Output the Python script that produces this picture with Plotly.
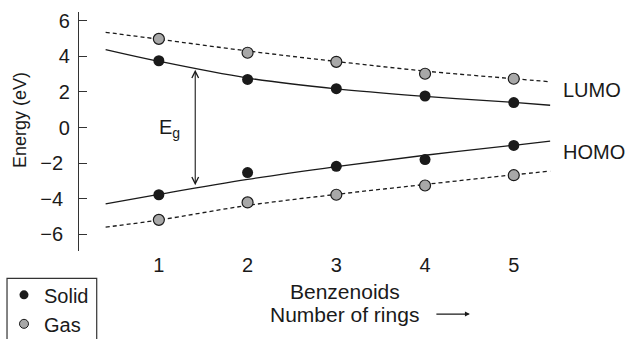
import plotly.graph_objects as go

# Number of rings (benzenoids)
rings = [1, 2, 3, 4, 5]

# Measured energies (eV)
lumo_solid = [3.75, 2.70, 2.18, 1.77, 1.40]
lumo_gas = [4.98, 4.20, 3.69, 3.02, 2.74]
homo_solid = [-3.78, -2.53, -2.18, -1.80, -1.01]
homo_gas = [-5.19, -4.21, -3.78, -3.26, -2.68]

# Fitted trend curves at a few x positions
fit_x = [0.4, 1, 2, 3, 4, 5, 5.41]
fit_lumo_solid = [4.38, 3.72, 2.78, 2.17, 1.75, 1.41, 1.25]
fit_lumo_gas = [5.35, 4.96, 4.30, 3.71, 3.17, 2.74, 2.57]
fit_homo_solid = [-4.29, -3.76, -2.92, -2.20, -1.56, -1.00, -0.77]
fit_homo_gas = [-5.60, -5.20, -4.38, -3.76, -3.20, -2.66, -2.45]

y_ticks = [-6, -4, -2, 0, 2, 4, 6]
y_tick_labels = ["\u22126\u2004", "\u22124\u2004", "\u22122\u2004", "0", "2", "4", "6"]
x_ticks = [1, 2, 3, 4, 5]

FONT = "Liberation Sans, Arial, Helvetica, sans-serif"
INK = "#1a1a1a"
GRAY = "#a8a8a8"

fig = go.Figure()

for ys, dash in [(fit_lumo_gas, "4px,3px"), (fit_homo_gas, "4px,3px"),
                 (fit_lumo_solid, "solid"), (fit_homo_solid, "solid")]:
    fig.add_trace(go.Scatter(x=fit_x, y=ys, mode="lines", line_shape="spline",
                             line=dict(color=INK, width=1.3, dash=dash),
                             showlegend=False, hoverinfo="skip"))

for ys in [lumo_gas, homo_gas]:
    fig.add_trace(go.Scatter(x=rings, y=ys, mode="markers", showlegend=False,
                             marker=dict(size=11, color=GRAY, line=dict(color=INK, width=1.2))))
for ys in [lumo_solid, homo_solid]:
    fig.add_trace(go.Scatter(x=rings, y=ys, mode="markers", showlegend=False,
                             marker=dict(size=11, color=INK, line=dict(width=0))))

# legend entries
fig.add_trace(go.Scatter(x=[None], y=[None], mode="markers", name="Solid",
                         marker=dict(size=9, color=INK, line=dict(width=0))))
fig.add_trace(go.Scatter(x=[None], y=[None], mode="markers", name="Gas",
                         marker=dict(size=9, color=GRAY, line=dict(color=INK, width=1))))

# Eg double arrow
fig.add_annotation(x=1.41, y=3.24, ax=1.41, ay=-3.33, xref="x", yref="y",
                   axref="x", ayref="y", text="", showarrow=True,
                   arrowhead=5, startarrowhead=5, arrowside="end+start",
                   arrowsize=1.2, startarrowsize=1.2, arrowwidth=1.1, arrowcolor=INK)
fig.add_annotation(x=1.125, y=-0.05, xref="x", yref="y", text="E<sub>g</sub>",
                   showarrow=False, font=dict(size=20, color=INK, family=FONT))

fig.add_annotation(x=5.537, y=2.08, xref="x", yref="y", text="LUMO", xanchor="left",
                   showarrow=False, font=dict(size=20, color=INK, family=FONT))
fig.add_annotation(x=5.537, y=-1.39, xref="x", yref="y", text="HOMO", xanchor="left",
                   showarrow=False, font=dict(size=20, color=INK, family=FONT))

# axis titles
fig.add_annotation(x=-0.121, y=0.5475, xref="paper", yref="paper", text="Energy (eV)",
                   textangle=-90, showarrow=False, xanchor="center", yanchor="middle",
                   font=dict(size=18, color=INK, family=FONT))
fig.add_annotation(x=3.096, y=-0.2275, xref="x", yref="paper", text="Benzenoids",
                   showarrow=False, font=dict(size=21, color=INK, family=FONT))
fig.add_annotation(x=3.096, y=-0.3238, xref="x", yref="paper", text="Number of rings",
                   showarrow=False, font=dict(size=21, color=INK, family=FONT))
fig.add_annotation(x=0.801, y=-0.264, ax=-35, ay=0, xref="paper", yref="paper",
                   axref="pixel", ayref="pixel", text="", showarrow=True,
                   arrowhead=2, arrowsize=0.9, arrowwidth=1.1, arrowcolor=INK)

# legend frame (runs off the bottom edge)
fig.add_shape(type="rect", xref="paper", yref="paper", x0=-0.1475, x1=0.0363,
              y0=-0.40, y1=-0.1144, line=dict(color="#333333", width=1.2))

fig.update_layout(
    width=626, height=339,
    margin=dict(l=79, r=59, t=12, b=88, autoexpand=False),
    paper_bgcolor="white", plot_bgcolor="white",
    font=dict(family=FONT, size=20, color=INK),
    showlegend=True,
    legend=dict(x=-0.1537, y=-0.1018, xanchor="left", yanchor="top",
                bgcolor="rgba(0,0,0,0)", borderwidth=0,
                font=dict(size=20, family=FONT, color=INK),
                tracegroupgap=0, itemsizing="trace"),
    xaxis=dict(range=[0.1, 5.6], tickvals=x_ticks, showline=False, showgrid=False,
               zeroline=False, ticks="", tickfont=dict(size=20), automargin=False),
    yaxis=dict(range=[-6.94, 6.49], tickvals=y_ticks, ticktext=y_tick_labels,
               showline=True, linecolor="#333333",
               linewidth=1.3, ticks="inside", ticklen=8, tickcolor="#333333", tickwidth=1.3,
               showgrid=False, zeroline=False, tickfont=dict(size=20), automargin=False,
               ticklabelstandoff=4),
)

fig.write_html("out.html", config={"displayModeBar": False},
               post_script="document.body.style.margin='0px';document.body.style.overflow='hidden';")
